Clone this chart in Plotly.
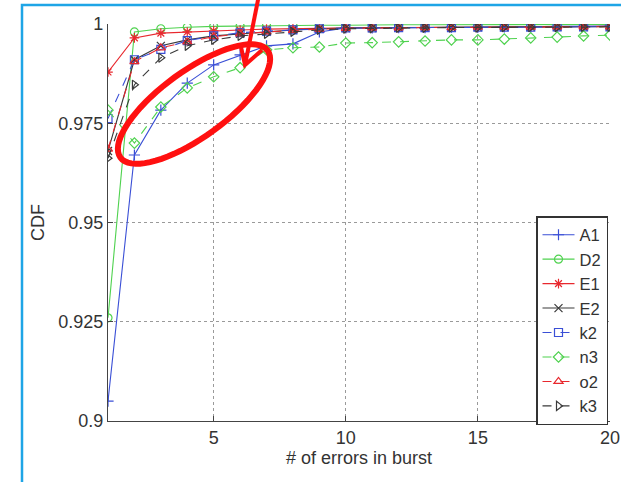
import numpy as np
import plotly.graph_objects as go

# ---------------- data ----------------
x_vals = list(range(1, 21))

A1 = [0.905, 0.967, 0.9783, 0.9851, 0.9897, 0.9922, 0.9945, 0.9950, 0.9980, 0.9990,
      0.9990, 0.9991, 0.9991, 0.9992, 0.9992, 0.9993, 0.9993, 0.9994, 0.9994, 0.9995]
D2 = [0.926, 0.9980, 0.9988, 0.9992, 0.9994, 0.9995, 0.9996, 0.9996, 0.9997, 0.9997,
      0.9998, 0.9998, 0.9998, 0.9998, 0.9999, 0.9999, 0.9999, 0.9999, 0.9999, 0.9999]
E1 = [0.9879, 0.9965, 0.9977, 0.9980, 0.9983, 0.9985, 0.9987, 0.9988, 0.9990, 0.9990,
      0.9991, 0.9991, 0.9992, 0.9992, 0.9992, 0.9993, 0.9993, 0.9993, 0.9994, 0.9994]
E2 = [0.968, 0.9910, 0.9945, 0.9960, 0.9970, 0.9975, 0.9980, 0.9985, 0.9988, 0.9990,
      0.9990, 0.9991, 0.9991, 0.9992, 0.9992, 0.9992, 0.9993, 0.9993, 0.9993, 0.9994]
k2 = [0.9762, 0.9910, 0.9936, 0.9958, 0.9970, 0.9978, 0.9982, 0.9985, 0.9988, 0.9990,
      0.9990, 0.9991, 0.9991, 0.9991, 0.9992, 0.9992, 0.9992, 0.9993, 0.9993, 0.9993]
n3 = [0.9783, 0.9700, 0.9791, 0.9839, 0.9867, 0.9890, 0.9935, 0.9940, 0.9942, 0.9952,
      0.9953, 0.9955, 0.9957, 0.9960, 0.9960, 0.9962, 0.9965, 0.9967, 0.9970, 0.9972]
o2 = [0.9685, 0.9905, 0.9940, 0.9955, 0.9968, 0.9975, 0.9980, 0.9984, 0.9987, 0.9989,
      0.9990, 0.9990, 0.9991, 0.9991, 0.9992, 0.9992, 0.9992, 0.9993, 0.9993, 0.9993]
k3 = [0.9662, 0.9847, 0.9915, 0.9945, 0.9960, 0.9970, 0.9975, 0.9980, 0.9985, 0.9988,
      0.9989, 0.9990, 0.9990, 0.9991, 0.9991, 0.9992, 0.9992, 0.9992, 0.9993, 0.9993]

series_names = ["A1", "D2", "E1", "E2", "k2", "n3", "o2", "k3"]
series_values = [A1, D2, E1, E2, k2, n3, o2, k3]

x_ticks = [5, 10, 15, 20]
y_ticks = [0.9, 0.925, 0.95, 0.975, 1.0]
y_tick_labels = ["0.9", "0.925", "0.95", "0.975", "1"]

# ---------------- styles ----------------
BLUE = "#3a4fd6"
GREEN = "#4fd24f"
RED = "#e8282e"
BLACK = "#3a3a3a"
styles = {
    "A1": dict(color=BLUE, dash="solid", symbol="cross-thin-open"),
    "D2": dict(color=GREEN, dash="solid", symbol="circle-open"),
    "E1": dict(color=RED, dash="solid", symbol="asterisk-open"),
    "E2": dict(color=BLACK, dash="solid", symbol="x-thin-open"),
    "k2": dict(color=BLUE, dash="dash", symbol="square-open"),
    "n3": dict(color=GREEN, dash="dash", symbol="diamond-open"),
    "o2": dict(color=RED, dash="dash", symbol="triangle-up-open"),
    "k3": dict(color=BLACK, dash="dash", symbol="triangle-right-open"),
}

fig = go.Figure()
for name, vals in zip(series_names, series_values):
    s = styles[name]
    fig.add_trace(go.Scatter(
        x=x_vals, y=vals, name=name, mode="lines+markers",
        line=dict(color=s["color"], width=1.1, dash=s["dash"]),
        marker=dict(symbol=s["symbol"], size=8, color=s["color"],
                    line=dict(color=s["color"], width=1.2)),
    ))

# ---------------- layout ----------------
W, H = 621, 482
L, R, T, B = 108, 11, 24, 61
PW, PH = W - L - R, H - T - B

def to_paper(px, py):
    return (px - L) / PW, (H - B - py) / PH

font_family = "Liberation Sans, Arial, sans-serif"

fig.update_layout(
    width=W, height=H,
    margin=dict(l=L, r=R, t=T, b=B, autoexpand=False),
    paper_bgcolor="white", plot_bgcolor="white",
    font=dict(family=font_family, size=18, color="#333333"),
    showlegend=True,
    legend=dict(
        x=to_paper(608, 0)[0], y=to_paper(0, 216)[1],
        xanchor="right", yanchor="top",
        bgcolor="white", bordercolor="#333333", borderwidth=1.5,
        font=dict(size=16.5, color="#333333"),
        itemwidth=32, tracegroupgap=0,
    ),
    xaxis=dict(
        range=[1, 20], tickvals=x_ticks, ticks="inside", ticklen=5,
        tickcolor="#444444", showline=True, linecolor="#444444", linewidth=1.2,
        showgrid=True, gridcolor="#9a9a9a", griddash="dot", gridwidth=1,
        zeroline=False, tickfont=dict(size=18), automargin=False,
        title=dict(text="# of errors in burst", font=dict(size=18), standoff=4),
    ),
    yaxis=dict(
        range=[0.9, 1.0], tickvals=y_ticks, ticktext=y_tick_labels,
        ticks="inside", ticklen=5,
        tickcolor="#444444", showline=True, linecolor="#444444", linewidth=1.2,
        showgrid=True, gridcolor="#9a9a9a", griddash="dot", gridwidth=1,
        zeroline=False, tickfont=dict(size=18), automargin=False,
        title=dict(text="CDF", font=dict(size=18), standoff=8),
    ),
)

shapes = []
# blue frame (left and top edges)
fx0, fy0 = to_paper(22, 5)
fx1, fy1 = to_paper(640, 500)
shapes.append(dict(type="path", xref="paper", yref="paper",
                   path=f"M {fx0} {fy1} L {fx0} {fy0} L {fx1} {fy0}",
                   line=dict(color="#1ea5e6", width=2.5)))

# red highlight ellipse
cx, cy, a, b, ang = 194, 104, 91, 33, np.deg2rad(36)
ux, uy = np.cos(ang), -np.sin(ang)
vx, vy = np.sin(ang), np.cos(ang)
pts = []
for t in np.linspace(0, 2 * np.pi, 73):
    px = cx + a * np.cos(t) * ux + b * np.sin(t) * vx
    py = cy + a * np.cos(t) * uy + b * np.sin(t) * vy
    pts.append(to_paper(px, py))
path = "M " + " L ".join(f"{p[0]:.5f} {p[1]:.5f}" for p in pts) + " Z"
shapes.append(dict(type="path", xref="paper", yref="paper", path=path,
                   line=dict(color="#ff1010", width=6)))

# red arrow
p_top = to_paper(259, -5)
p_tip = to_paper(245, 65)
p_l = to_paper(241, 47)
p_r = to_paper(262, 50)
shapes.append(dict(type="path", xref="paper", yref="paper",
                   path=f"M {p_top[0]} {p_top[1]} L {p_tip[0]} {p_tip[1]}",
                   line=dict(color="#ff1010", width=4)))
shapes.append(dict(type="path", xref="paper", yref="paper",
                   path=f"M {p_l[0]} {p_l[1]} L {p_tip[0]} {p_tip[1]} L {p_r[0]} {p_r[1]}",
                   line=dict(color="#ff1010", width=4)))
fig.update_layout(shapes=shapes)

fig.write_html("out.html")
